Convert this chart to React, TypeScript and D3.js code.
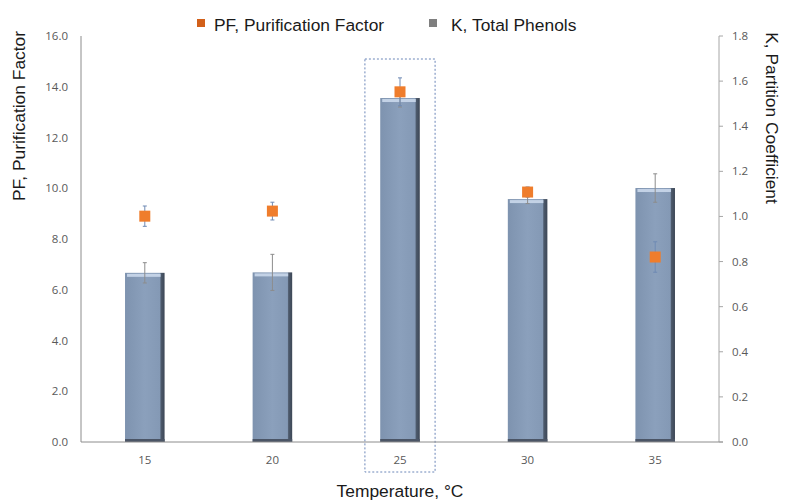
import React from "react";
import * as d3 from "d3";

const temps = ["15", "20", "25", "30", "35"];
const kValues = [0.75, 0.752, 1.525, 1.077, 1.126];
const kErrors = [0.045, 0.08, 0.04, 0.02, 0.063];
const pfValues = [8.9, 9.1, 13.8, 9.85, 7.29];
const pfErrors = [0.4, 0.35, 0.55, 0.2, 0.6];
const leftTicks = [0, 2, 4, 6, 8, 10, 12, 14, 16];
const rightTicks = [0, 0.2, 0.4, 0.6, 0.8, 1.0, 1.2, 1.4, 1.6, 1.8];
const highlighted = "25";

const W = 785;
const H = 500;
const m = { top: 36, right: 66, bottom: 58, left: 81 };

export default function App() {
  const x = d3
    .scaleBand()
    .domain(temps)
    .range([m.left, W - m.right])
    .paddingInner(0.69)
    .paddingOuter(0.345);
  const yL = d3.scaleLinear().domain([0, 16]).range([H - m.bottom, m.top]);
  const yR = d3.scaleLinear().domain([0, 1.8]).range([H - m.bottom, m.top]);
  const bw = x.bandwidth();
  const base = yL(0);
  const font = "'Open Sans', 'DejaVu Sans', sans-serif";
  const titleFont = "'Liberation Sans', Arial, sans-serif";
  const hx = x(highlighted)! + bw / 2;
  const step = x.step();

  return (
    <svg width={W} height={H} style={{ position: "absolute", left: 0, top: 0, background: "#fff" }}>
      <defs>
        <linearGradient id="barg" x1="0" x2="1" y1="0" y2="0">
          <stop offset="0" stopColor="#7e93af" />
          <stop offset="0.5" stopColor="#8ba0bc" />
          <stop offset="0.88" stopColor="#8499b5" />
          <stop offset="0.91" stopColor="#4d5a6c" />
          <stop offset="1" stopColor="#3d4756" />
        </linearGradient>
      </defs>

      {/* highlight box */}
      <rect
        x={hx - step * 0.275}
        y={59}
        width={step * 0.55}
        height={472 - 59}
        fill="none"
        stroke="#6b86b8"
        strokeWidth={1}
        strokeDasharray="2,2"
      />

      {/* bars */}
      {temps.map((t, i) => {
        const bx = x(t)!;
        const top = yR(kValues[i]);
        return (
          <g key={t}>
            <rect x={bx} y={top} width={bw} height={base - top} fill="url(#barg)" />
            <rect x={bx + 2} y={top + 1} width={bw - 6} height={3} fill="#c3d2e6" />
            <rect x={bx} y={base - 3} width={bw} height={3} fill="#4b5566" />
          </g>
        );
      })}

      {/* bar error bars */}
      {temps.map((t, i) => {
        const cx = x(t)! + bw / 2;
        const y1 = yR(kValues[i] + kErrors[i]);
        const y2 = yR(kValues[i] - kErrors[i]);
        return (
          <g key={"ke" + t} stroke="#8c8c8c" strokeWidth={1}>
            <line x1={cx} x2={cx} y1={y1} y2={y2} />
            <line x1={cx - 2} x2={cx + 2} y1={y1} y2={y1} />
            <line x1={cx - 2} x2={cx + 2} y1={y2} y2={y2} />
          </g>
        );
      })}

      {/* PF markers */}
      {temps.map((t, i) => {
        const cx = x(t)! + bw / 2;
        const cy = yL(pfValues[i]);
        const y1 = yL(pfValues[i] + pfErrors[i]);
        const y2 = yL(pfValues[i] - pfErrors[i]);
        return (
          <g key={"pf" + t}>
            <g stroke="#6f8ab4" strokeWidth={1}>
              <line x1={cx} x2={cx} y1={y1} y2={y2} />
              <line x1={cx - 2} x2={cx + 2} y1={y1} y2={y1} />
              <line x1={cx - 2} x2={cx + 2} y1={y2} y2={y2} />
            </g>
            <rect x={cx - 5.5} y={cy - 5.5} width={11} height={11} fill="#ef7d2c" />
          </g>
        );
      })}

      {/* axes */}
      <line x1={m.left} x2={m.left} y1={m.top} y2={base} stroke="#8c8c8c" />
      <line x1={W - m.right} x2={W - m.right} y1={m.top} y2={base} stroke="#a6a6a6" />
      <line x1={m.left} x2={W - m.right + 4} y1={base} y2={base} stroke="#8c8c8c" />

      {leftTicks.map((v) => (
        <text key={"l" + v} x={68} y={yL(v) + 4} textAnchor="end" fontSize={11.5} fill="#595959" fontFamily={font}>
          {v.toFixed(1)}
        </text>
      ))}
      {rightTicks.map((v) => (
        <g key={"r" + v}>
          <line x1={W - m.right} x2={W - m.right + 4} y1={yR(v)} y2={yR(v)} stroke="#a6a6a6" />
          <text x={732} y={yR(v) + 4} fontSize={11.5} fill="#595959" fontFamily={font}>
            {v.toFixed(1)}
          </text>
        </g>
      ))}
      {temps.map((t) => (
        <text key={"x" + t} x={x(t)! + bw / 2} y={464} textAnchor="middle" fontSize={11.5} fill="#595959" fontFamily={font}>
          {t}
        </text>
      ))}

      {/* titles */}
      <text x={400} y={497} textAnchor="middle" fontSize={17.4} fill="#1a1a1a" fontFamily={titleFont}>
        Temperature, °C
      </text>
      <text
        transform={`translate(25,116) rotate(-90)`}
        textAnchor="middle"
        fontSize={17.4}
        fill="#1a1a1a"
        fontFamily={titleFont}
      >
        PF, Purification Factor
      </text>
      <text
        transform={`translate(766,118) rotate(90)`}
        textAnchor="middle"
        fontSize={17.4}
        fill="#1a1a1a"
        fontFamily={titleFont}
      >
        K, Partition Coefficient
      </text>

      {/* legend */}
      <rect x={197} y={19} width={8} height={8} fill="#d2601a" />
      <text x={214} y={31} fontSize={17.4} fill="#1a1a1a" fontFamily={titleFont}>
        PF, Purification Factor
      </text>
      <rect x={429} y={19} width={8} height={8} fill="#7f7f7f" />
      <text x={451} y={31} fontSize={17.4} fill="#1a1a1a" fontFamily={titleFont}>
        K, Total Phenols
      </text>
    </svg>
  );
}
